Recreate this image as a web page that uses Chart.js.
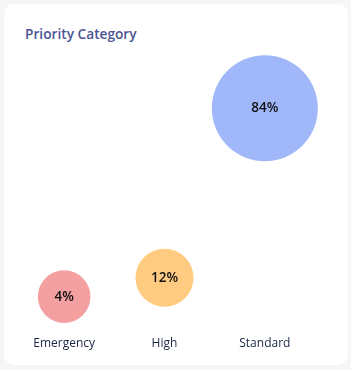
<!DOCTYPE html>
<html>
<head>
<meta charset="utf-8">
<script src="https://cdn.jsdelivr.net/npm/chart.js@4.4.0/dist/chart.umd.min.js"></script>
<style>
  html, body { margin: 0; padding: 0; background: #f5f6f8; }
  body { width: 351px; height: 370px; position: relative; overflow: hidden; font-family: "Open Sans", "Noto Sans", sans-serif; }
  .card { position: absolute; left: 4px; top: 4px; width: 344px; height: 361px; background: #fff; border-radius: 10px; }
  .title { position: absolute; left: 21px; top: 20px; font-size: 13.7px; font-weight: 600; color: #4a5596; }
  .chart-box { position: absolute; left: 0; top: 50px; width: 341px; height: 311px; }
</style>
</head>
<body>
<div class="card">
  <div class="title">Priority Category</div>
  <div class="chart-box"><canvas id="priorityChart"></canvas></div>
</div>
<script>
  // Data
  const categories = ['Emergency', 'High', 'Standard'];
  const percents = [4, 12, 84];
  const bubbleColors = ['#f4a0a0', '#ffcb80', '#a0b8fa'];

  // bubble size grows with share
  const points = categories.map((c, i) => ({ x: c, y: percents[i], r: 25 + percents[i] / 3 }));

  // percent text in the middle of each bubble
  const centerLabels = {
    id: 'centerLabels',
    afterDatasetsDraw(chart) {
      const ctx = chart.ctx;
      const meta = chart.getDatasetMeta(0);
      ctx.save();
      ctx.font = '600 13.5px "Open Sans", sans-serif';
      ctx.fillStyle = '#111';
      ctx.textAlign = 'center';
      ctx.textBaseline = 'middle';
      meta.data.forEach((el, i) => {
        ctx.fillText(percents[i] + '%', el.x, el.y);
      });
      ctx.restore();
    }
  };

  new Chart(document.getElementById('priorityChart'), {
    type: 'bubble',
    data: {
      labels: categories,
      datasets: [{
        data: points,
        backgroundColor: bubbleColors,
        borderWidth: 0,
        hoverBorderWidth: 0
      }]
    },
    options: {
      responsive: true,
      maintainAspectRatio: false,
      animation: false,
      clip: false,
      layout: { autoPadding: false, padding: { left: 10, right: 30, top: 0, bottom: 4 } },
      plugins: {
        legend: { display: false },
        tooltip: { enabled: false }
      },
      scales: {
        x: {
          type: 'category',
          labels: categories,
          offset: true,
          grid: { display: false, drawTicks: false },
          border: { display: false },
          ticks: {
            padding: 10,
            color: '#1b2547',
            font: { family: '"Open Sans", sans-serif', size: 12 }
          }
        },
        y: {
          display: false,
          min: -8.7,
          max: 107
        }
      }
    },
    plugins: [centerLabels]
  });
</script>
</body>
</html>
